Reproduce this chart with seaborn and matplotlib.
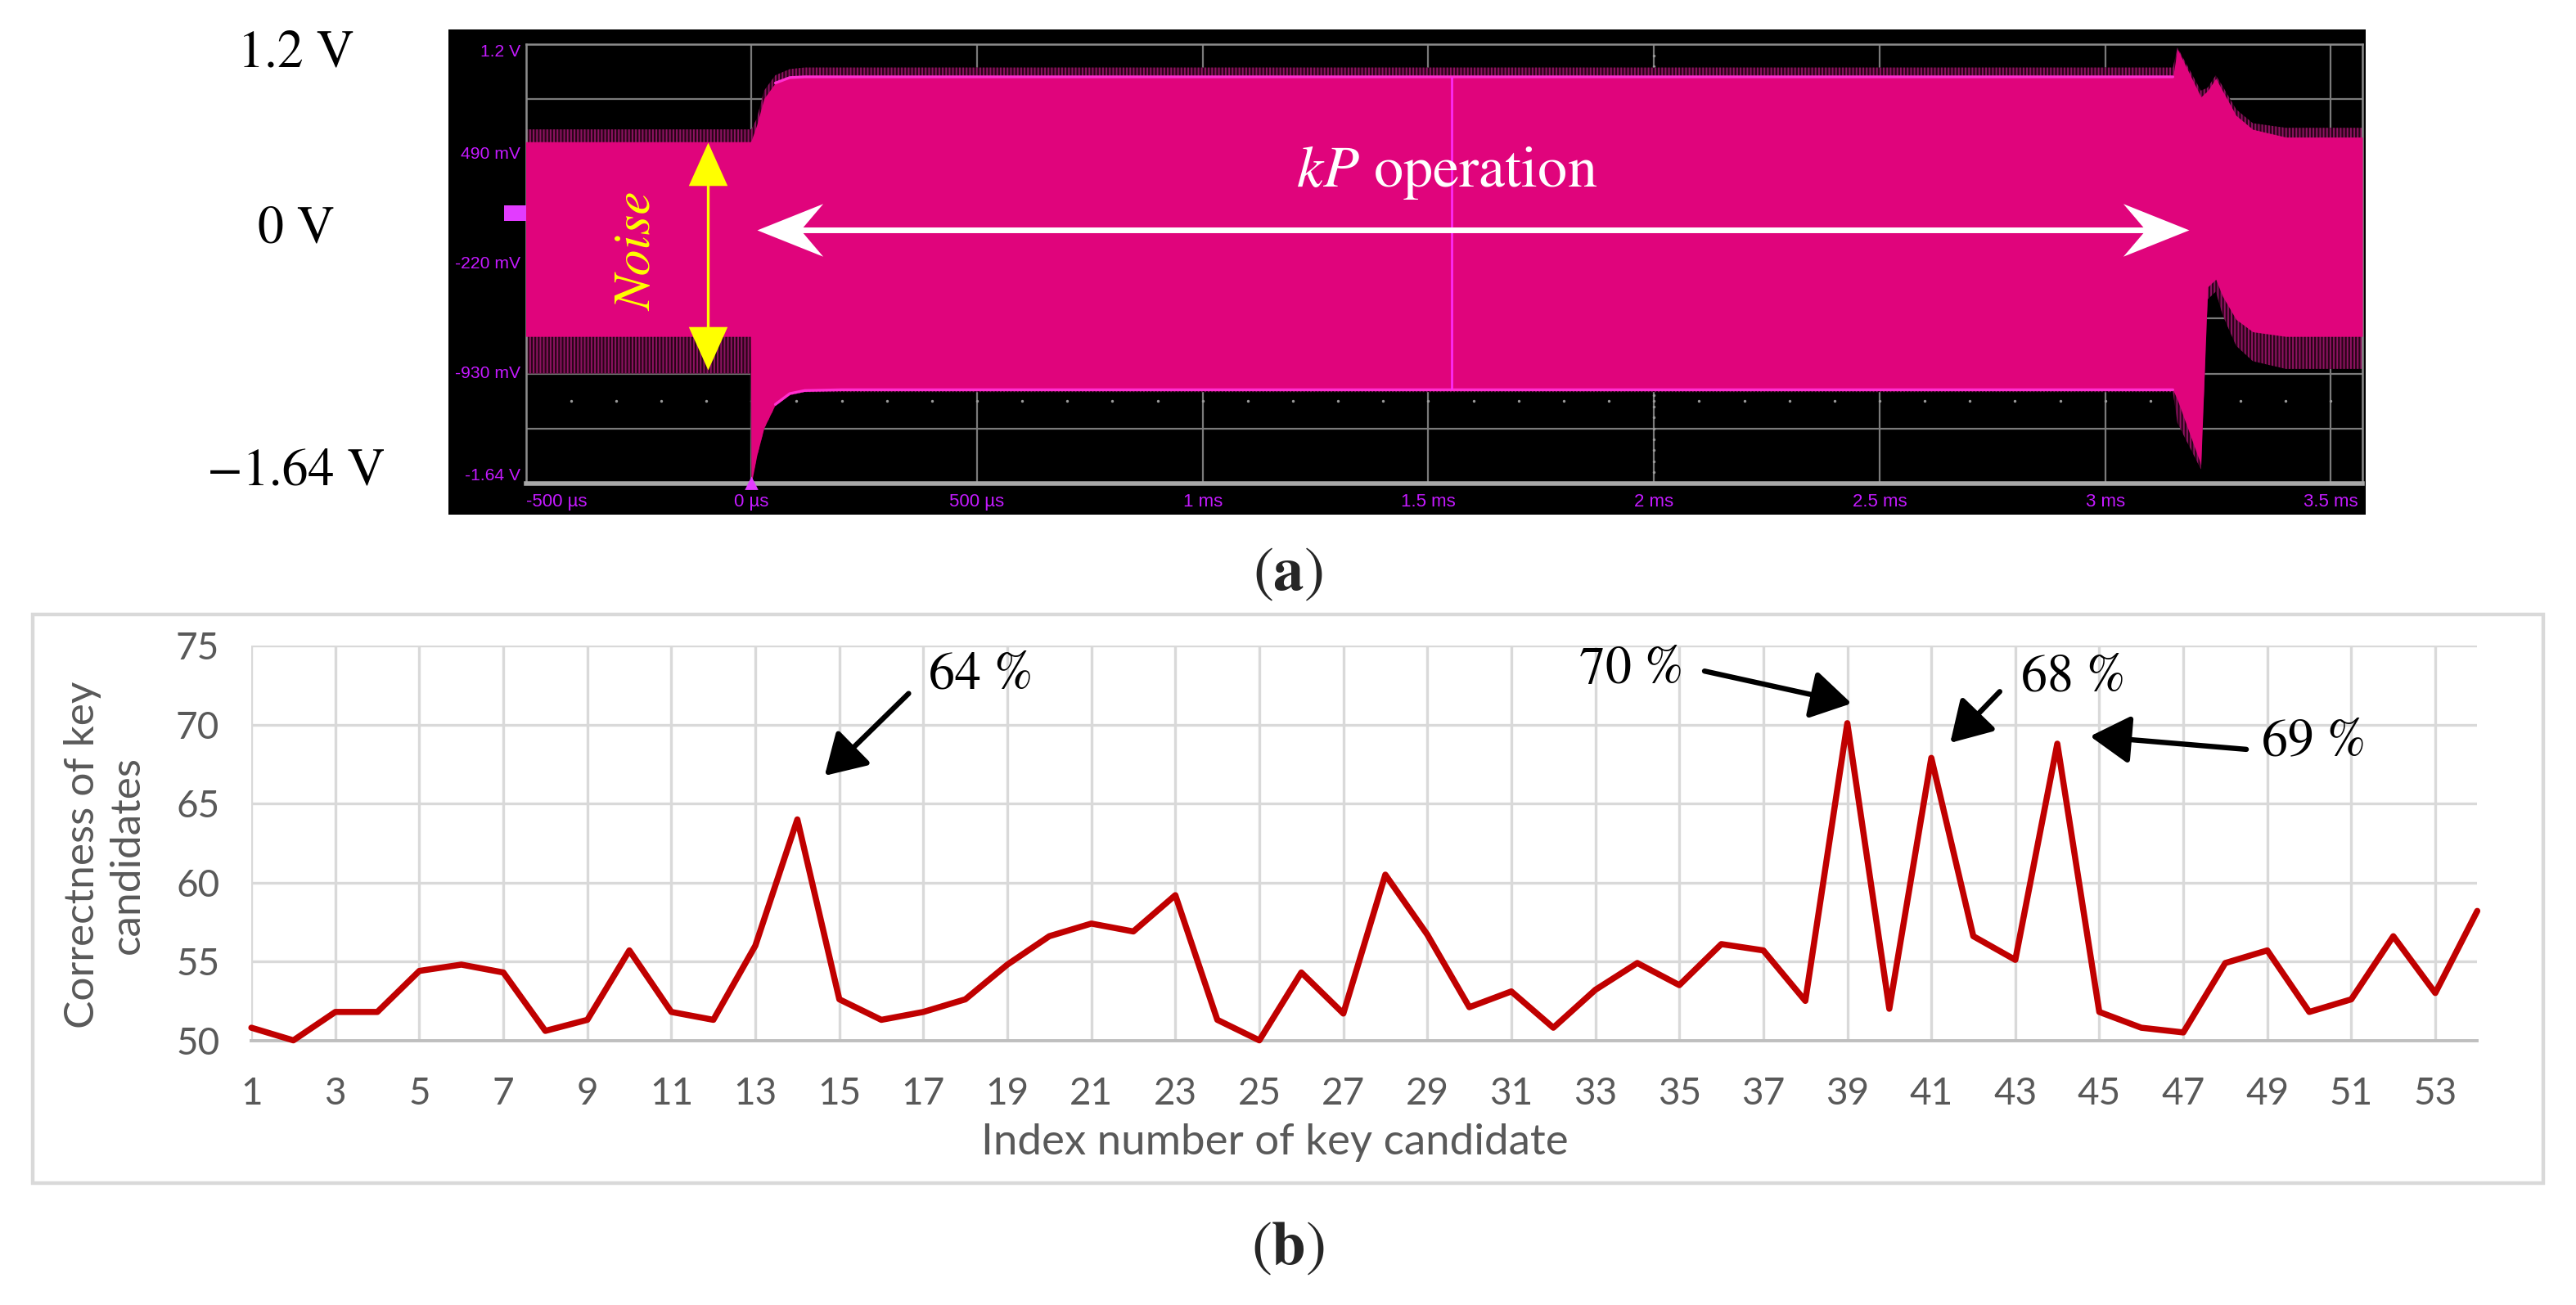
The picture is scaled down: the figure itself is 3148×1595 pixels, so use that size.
import numpy as np
import seaborn as sns
import matplotlib.pyplot as plt
import matplotlib.transforms as mtransforms
from matplotlib.path import Path
from matplotlib.patches import Rectangle

# ---- (a) oscilloscope trace envelope (time in us, volts) ----
t_us = [-500, -2, 0, 12, 28, 53, 85, 118, 200, 3150, 3160, 3212, 3227, 3245, 3260, 3290, 3327, 3400, 3570]
upper_v = [0.57, 0.57, 0.58, 0.68, 0.85, 0.95, 0.985, 0.99, 0.99, 0.99, 1.17, 0.86, 0.90, 0.98, 0.90, 0.74, 0.65, 0.60, 0.60]
lower_v = [-0.69, -0.69, -1.64, -1.46, -1.28, -1.13, -1.06, -1.04, -1.035, -1.035, -1.10, -1.52, -0.37, -0.32, -0.43, -0.58, -0.66, -0.69, -0.69]
noise_hi_v = [0.65, 0.65, 0.65, 0.72, 0.90, 1.00, 1.04, 1.05, 1.05, 1.05, 1.18, 0.90, 0.92, 1.00, 0.93, 0.78, 0.69, 0.66, 0.66]
noise_lo_v = [-0.93, -0.93, -1.64, -1.47, -1.29, -1.14, -1.07, -1.05, -1.05, -1.05, -1.25, -1.55, -0.45, -0.40, -0.55, -0.75, -0.85, -0.90, -0.90]

scope_xticks = [-500, 0, 500, 1000, 1500, 2000, 2500, 3000, 3500]
scope_xlabels = ['-500 µs', '0 µs', '500 µs', '1 ms', '1.5 ms', '2 ms', '2.5 ms', '3 ms', '3.5 ms']
scope_yticks = [1.2, 0.49, -0.22, -0.93, -1.64]
scope_ylabels = ['1.2 V', '490 mV', '-220 mV', '-930 mV', '-1.64 V']
side_levels = [1.136, -0.002, -1.566]
side_labels = ['1.2 V', '0 V', '\u22121.64 V']

# ---- (b) correctness of key candidates ----
key_index = list(range(1, 55))
correctness = [50.8, 50.0, 51.8, 51.8, 54.4, 54.8, 54.3, 50.6, 51.3, 55.7,
               51.8, 51.3, 56.0, 64.0, 52.6, 51.3, 51.8, 52.6, 54.8, 56.6,
               57.4, 56.9, 59.2, 51.3, 50.0, 54.3, 51.7, 60.5, 56.7, 52.1,
               53.1, 50.8, 53.2, 54.9, 53.5, 56.1, 55.7, 52.5, 70.1, 52.0,
               67.9, 56.6, 55.1, 68.8, 51.8, 50.8, 50.5, 54.9, 55.7, 51.8,
               52.6, 56.6, 53.0, 58.2]
peak_labels = ['64 %', '70 %', '68 %', '69 %']

sns.set_theme(style='white')
plt.rcParams['font.family'] = ['Lato', 'DejaVu Sans']
plt.rcParams['mathtext.fontset'] = 'stix'
plt.rcParams['hatch.linewidth'] = 0.7
serif = ['STIXGeneral', 'Liberation Serif', 'DejaVu Serif']
narrow = ['Liberation Sans Narrow', 'Liberation Sans', 'DejaVu Sans']
scope_txt = '#c41aff'
grey_txt = '#595959'

fig = plt.figure(figsize=(15.74, 7.975), dpi=200)
fig.patch.set_facecolor('white')

# black screen behind scope panel
fig.patches.append(Rectangle((0.1740, 0.6058), 0.7444, 0.3715, transform=fig.transFigure,
                             facecolor='black', edgecolor='none', zorder=-1))

# ================= panel (a) =================
ax1 = fig.add_axes([0.2041, 0.6297, 0.7130, 0.3363])
ax1.set_facecolor('black')
ax1.set_xlim(-500, 3570)
ax1.set_ylim(-1.64, 1.2)
ax1.set_xticks(scope_xticks)
ax1.set_yticks(np.linspace(1.2, -1.64, 9))
ax1.set_axisbelow(True)
ax1.grid(True, color='#7a7a7a', lw=0.8)
ax1.tick_params(length=0, labelbottom=False, labelleft=False)
for s in ax1.spines.values():
    s.set_color('#8c8c8c')
    s.set_linewidth(0.9)
ax1.spines['bottom'].set_color('#a8a8a8')
ax1.spines['bottom'].set_linewidth(2.0)

# dotted centre graticule
dots_x = np.arange(-400, 3570, 100)
ax1.scatter(dots_x, np.full(len(dots_x), -1.1075), s=1.5, color='#9a9a9a', zorder=1, linewidths=0)
dots_y = np.arange(-1.64, 1.2, 0.071)
ax1.scatter(np.full(len(dots_y), 2000), dots_y, s=1.5, color='#9a9a9a', zorder=1, linewidths=0)

# noisy fringe, then the solid trace
ax1.fill_between(t_us, noise_lo_v, noise_hi_v, facecolor='#2a0418', edgecolor='#8e1262',
                 hatch='||||||||', lw=0, zorder=2)
ax1.fill_between(t_us, lower_v, upper_v, color='#e0047c', lw=0, zorder=3)
sns.lineplot(x=t_us[5:10], y=upper_v[5:10], ax=ax1, color='#ff2fd0', lw=1.2, zorder=4)
sns.lineplot(x=t_us[5:10], y=lower_v[5:10], ax=ax1, color='#ff2fd0', lw=1.2, zorder=4)
ax1.vlines(1551, -1.035, 0.99, color='#ff2cff', lw=0.9, zorder=4)

trans1 = mtransforms.blended_transform_factory(ax1.transData, ax1.transAxes)
for x, lab in zip(scope_xticks, scope_xlabels):
    ha = 'left' if x == -500 else 'center'
    ax1.text(x, -0.042, lab, transform=trans1, ha=ha, va='center', fontsize=8.0,
             color=scope_txt, family=narrow, clip_on=False)
transy = mtransforms.blended_transform_factory(ax1.transAxes, ax1.transData)
for y, lab in zip(scope_yticks, scope_ylabels):
    va = 'top' if y == 1.2 else ('bottom' if y == -1.64 else 'center')
    ax1.text(-0.003, y, lab, transform=transy, ha='right', va=va, fontsize=7.6,
             color=scope_txt, family=narrow, clip_on=False)
# channel tag and trigger marker
ax1.add_patch(Rectangle((-0.012, 0.06), 0.012, 0.1, transform=transy, facecolor='#e23cff',
                        edgecolor='none', clip_on=False, zorder=5))
ax1.plot([0], [-1.64], marker='^', ms=4, color='#e23cff', clip_on=False, zorder=6)

for y, lab in zip(side_levels, side_labels):
    ax1.text(-0.125, y, lab, transform=transy, ha='center', va='center', fontsize=23,
             family=serif, color='black', clip_on=False)

# white double arrow (kP operation)
head_r = Path([(0, 0), (-1, 0.4), (-0.66, 0), (-1, -0.4), (0, 0)],
              [Path.MOVETO, Path.LINETO, Path.LINETO, Path.LINETO, Path.CLOSEPOLY])
head_l = Path([(0, 0), (1, 0.4), (0.66, 0), (1, -0.4), (0, 0)],
              [Path.MOVETO, Path.LINETO, Path.LINETO, Path.LINETO, Path.CLOSEPOLY])
ax1.plot([60, 3130], [0, 0], color='white', lw=2.5, zorder=6, solid_capstyle='butt')
ax1.plot([12], [0], marker=head_l, ms=58, color='white', mew=0, zorder=7)
ax1.plot([3185], [0], marker=head_r, ms=58, color='white', mew=0, zorder=7)
ax1.text(1540, 0.37, r'$kP$ operation', color='white', fontsize=26, family=serif,
         ha='center', va='center', zorder=7)

# yellow double arrow (Noise)
head_up = Path([(0, 0), (-0.45, -1), (0.45, -1), (0, 0)],
               [Path.MOVETO, Path.LINETO, Path.LINETO, Path.CLOSEPOLY])
head_dn = Path([(0, 0), (-0.45, 1), (0.45, 1), (0, 0)],
               [Path.MOVETO, Path.LINETO, Path.LINETO, Path.CLOSEPOLY])
ax1.plot([-96, -96], [0.45, -0.80], color='#ffff00', lw=1.2, zorder=6)
ax1.plot([-96], [0.564], marker=head_up, ms=38, color='#ffff00', mew=0, zorder=7)
ax1.plot([-96], [-0.905], marker=head_dn, ms=38, color='#ffff00', mew=0, zorder=7)
ax1.text(-250, -0.14, 'Noise', rotation=90, color='#ffff00', fontsize=23, family=serif,
         style='italic', ha='center', va='center', zorder=7)

fig.text(0.5, 0.559, r'($\mathbf{a}$)', family=serif, fontsize=27, ha='center', va='center')

# ================= panel (b) =================
fig.patches.append(Rectangle((0.01276, 0.0932), 0.9744, 0.4358, transform=fig.transFigure,
                             facecolor='none', edgecolor='#d9d9d9', lw=1.6, zorder=-1))

ax2 = fig.add_axes([0.09758, 0.2028, 0.8641, 0.3023])
sns.lineplot(x=key_index, y=correctness, ax=ax2, color='#c00000', lw=2.7, zorder=3, clip_on=False)
ax2.set_xlim(1, 54)
ax2.set_ylim(50, 75)
ax2.set_xticks(list(range(1, 54, 2)))
ax2.set_yticks(list(range(50, 76, 5)))
ax2.set_axisbelow(True)
ax2.grid(True, color='#d9d9d9', lw=1.2)
for side in ['top', 'right', 'left']:
    ax2.spines[side].set_visible(False)
ax2.spines['bottom'].set_color('#bfbfbf')
ax2.spines['bottom'].set_linewidth(1.4)
ax2.tick_params(length=0, labelsize=16.5, labelcolor=grey_txt)
ax2.tick_params(axis='x', pad=16)
ax2.tick_params(axis='y', pad=14)
ax2.set_xlabel('')
ax2.set_ylabel('')

fig.text(0.4949, 0.1247, 'Index number of key candidate', fontsize=19, color=grey_txt,
         ha='center', va='center')
fig.text(0.0408, 0.345, 'Correctness of key\ncandidates', fontsize=18.5, color=grey_txt,
         rotation=90, ha='center', va='center', multialignment='center', linespacing=1.25)

arrow_tails = [(16.65, 71.98), (35.6, 73.4), (42.63, 72.1), (48.5, 68.44)]
arrow_heads = [(14.65, 66.77), (39.1, 71.35), (41.45, 68.85), (44.78, 69.27)]
label_pos = [(18.37, 73.1), (33.86, 73.44), (44.39, 72.92), (50.1, 68.85)]
for lab, tail, head, pos in zip(peak_labels, arrow_tails, arrow_heads, label_pos):
    ax2.annotate('', xy=head, xytext=tail, annotation_clip=False,
                 arrowprops=dict(arrowstyle='-|>,head_length=0.6,head_width=0.36',
                                 mutation_scale=25, lw=2.3, color='black',
                                 shrinkA=0, shrinkB=0))
    ax2.text(pos[0], pos[1], lab, fontsize=23, family=serif, ha='center', va='center',
             color='black', zorder=5)

fig.text(0.5, 0.0428, r'($\mathbf{b}$)', family=serif, fontsize=27, ha='center', va='center')

fig.savefig('out.png', dpi=200, facecolor='white')
